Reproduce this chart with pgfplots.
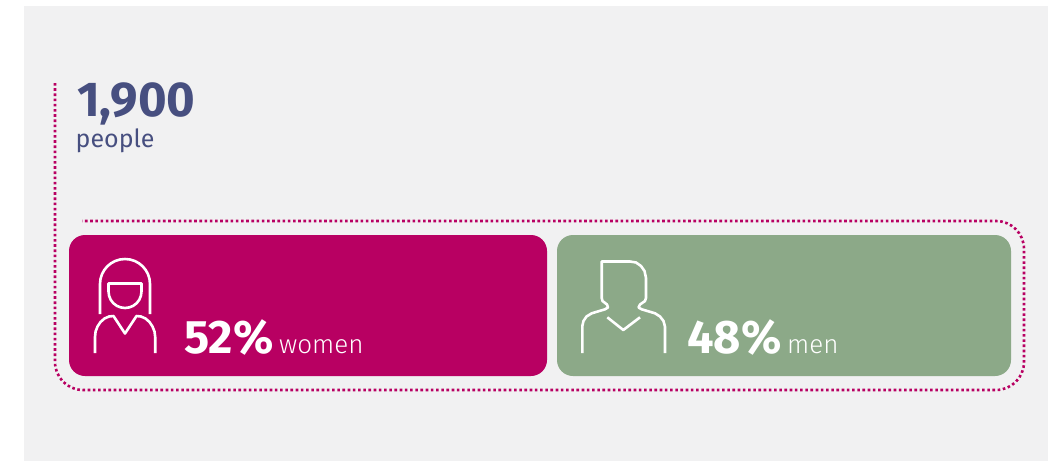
\documentclass[border=0pt]{standalone}
\usepackage{pgfplots}
\pgfplotsset{compat=1.18}
\usepackage{fontspec}
\setmainfont{Fira Sans}
\newfontfamily\lightfont{Fira Sans Light}
\definecolor{panel}{HTML}{F1F1F2}
\definecolor{magenta}{HTML}{B80062}
\definecolor{sage}{HTML}{8CA988}
\definecolor{navy}{HTML}{474F80}
\begin{document}
\begin{tikzpicture}
\begin{axis}[
    hide axis,
    scale only axis,
    width=1048pt,
    height=461pt,
    xmin=0,xmax=1048,
    ymin=0,ymax=461,
    y dir=reverse,
    icon/.style={white,line width=2.6pt,line join=round,line cap=butt,forget plot},
]
% page and panel
\addplot[draw=none,fill=white] coordinates {(0,0) (1048,0) (1048,461) (0,461)} -- cycle;
\addplot[draw=none,fill=panel] coordinates {(23.5,6) (1048,6) (1048,461) (23.5,461)} -- cycle;
% dotted bracket
\addplot[magenta,line width=2.6pt,rounded corners=28pt,dash pattern=on 2.6pt off 2.6pt] coordinates {
    (55,83) (55,390) (1024,390) (1024,221) (82,221)};
% bars
\addplot[draw=none,fill=magenta,rounded corners=16pt] coordinates {
    (300,235) (547,235) (547,376) (69,376) (69,235) (300,235)};
\addplot[draw=none,fill=sage,rounded corners=16pt] coordinates {
    (800,235) (1011,235) (1011,376) (557,376) (557,235) (800,235)};
% woman: hair
\addplot[icon,rounded corners=25pt] coordinates {(100,314) (100,259) (150,259) (150,314)};
% woman: face
\addplot[icon] coordinates {(141.5,291.5) (140.9,295.8) (139.3,299.75) (136.7,303.2) (133.25,305.8)
    (129.3,307.4) (125,308) (120.7,307.4) (116.75,305.8) (113.3,303.2) (110.7,299.75) (109.1,295.8)
    (108.5,291.5) (108.5,283.5) (141.5,283.5) (141.5,291.5)};
% woman: body
\addplot[icon] coordinates {(95,353) (95,337) (95.6,331.5) (97.5,326.5) (100.5,322) (104.5,318.5)
    (109,316.5) (113.5,316) (125,333.5) (136.5,316) (141,316.5) (145.5,318.5) (149.5,322)
    (152.5,326.5) (154.5,331.5) (155.2,337) (155.2,353)};
% man: outline
\addplot[icon] coordinates {(582.3,353) (582.3,326) (583.5,321) (586.5,316.5) (591.7,313.3)
    (605,309.3) (608,307.5) (607,304.5) (602.5,301) (601.7,298) (601.7,261.5) (630,261.5)
    (636,262.5) (641,266) (644.5,271) (646,278) (646,298) (645,301) (640,304.5) (638.5,307.5)
    (641.7,309.3) (655,313.3) (660,316.5) (663.5,321) (665,326.7) (665,353)};
% man: collar
\addplot[icon] coordinates {(607.3,317.3) (623.3,330) (640,317.3)};
% text
\node[anchor=base west,inner sep=0pt,navy,font=\fontsize{49}{49}\selectfont\bfseries] at (77,116) {1,900};
\node[anchor=base west,inner sep=0pt,navy,font=\fontsize{25}{25}\selectfont] at (75.5,147) {people};
\node[anchor=base west,inner sep=0pt,white,font=\fontsize{47}{47}\selectfont\bfseries] at (184,353) {52\%};
\node[anchor=base west,inner sep=0pt,white,font=\fontsize{26}{26}\lightfont] at (279,353) {women};
\node[anchor=base west,inner sep=0pt,white,font=\fontsize{47}{47}\selectfont\bfseries] at (687,353) {48\%};
\node[anchor=base west,inner sep=0pt,white,font=\fontsize{26}{26}\lightfont] at (787,353) {men};
\end{axis}
\end{tikzpicture}
\end{document}
